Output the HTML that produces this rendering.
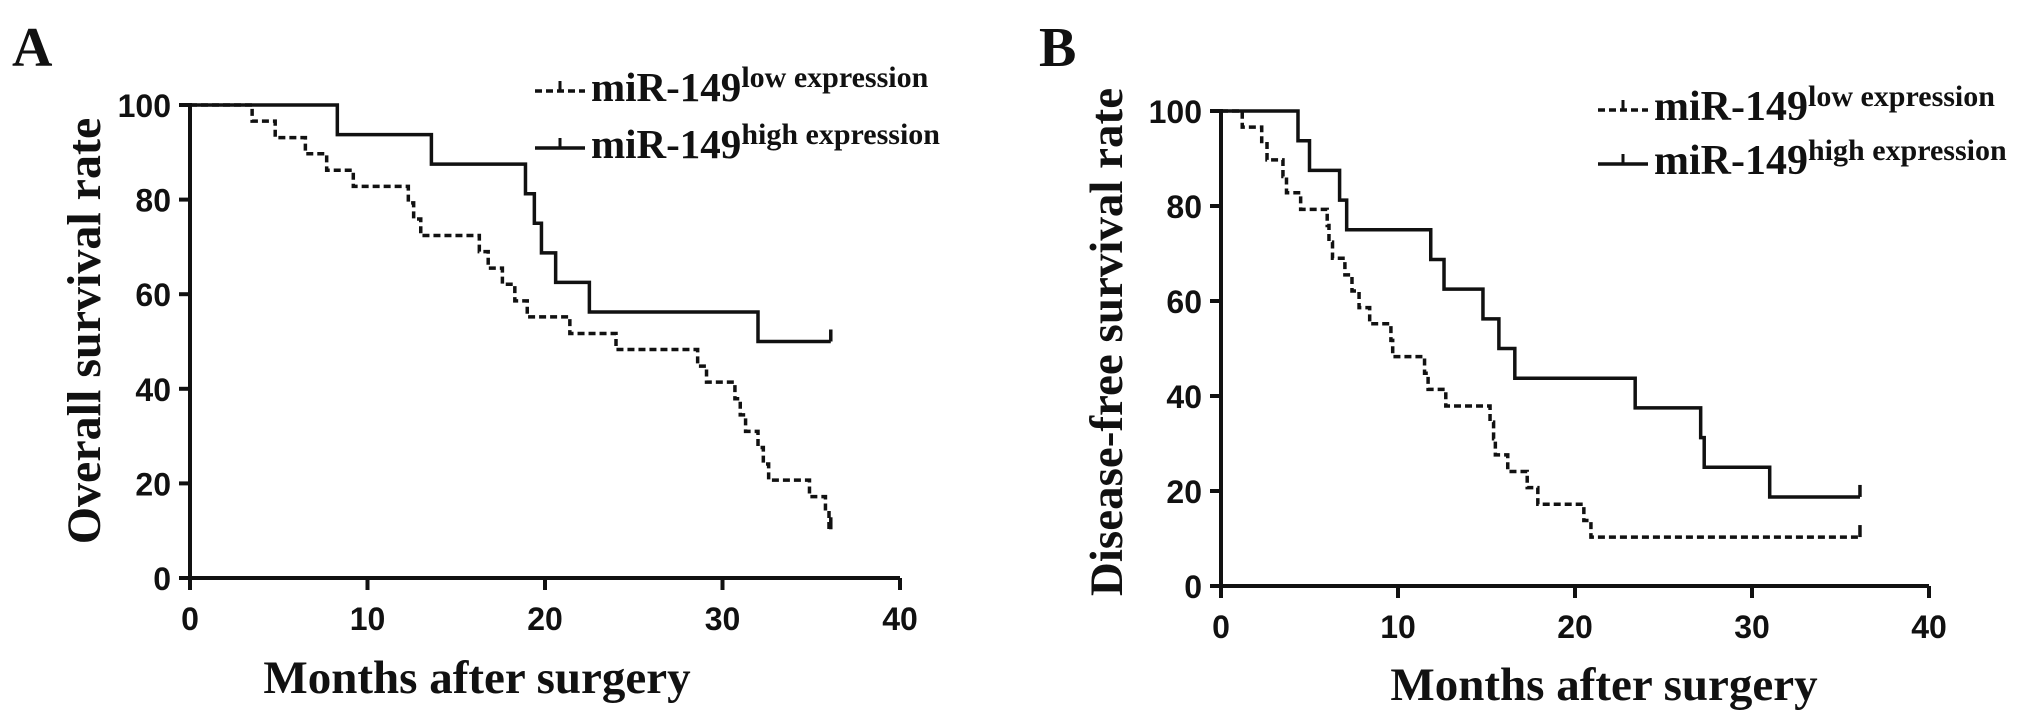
<!DOCTYPE html>
<html><head><meta charset="utf-8"><style>
html,body{margin:0;padding:0;background:#fff;}
svg{display:block;}
.tk{font-family:"Liberation Sans",Arial,sans-serif;font-weight:bold;font-size:32px;fill:#111;}
.tt{font-family:"Liberation Serif","Times New Roman",serif;font-weight:bold;fill:#111;}
</style></head><body>
<svg id="chart" width="2031" height="725" viewBox="0 0 2031 725" xmlns="http://www.w3.org/2000/svg"></svg>
<script>
const xTicks = [0, 10, 20, 30, 40];
const yTicks = [0, 20, 40, 60, 80, 100];
// Panel A - overall survival
const aHighTimes = [8.3, 13.6, 18.9, 19.4, 19.8, 20.6, 22.5, 32.0];
const aHighValues = [93.75, 87.5, 81.25, 75, 68.75, 62.5, 56.25, 50];
const aHighEnd = 36.1;
const aLowTimes = [3.5, 4.8, 6.5, 7.7, 9.2, 12.3, 12.6, 13.0, 16.3, 16.8, 17.6, 18.3, 19.0, 21.4, 24.0, 28.6, 29.1, 30.7, 31.0, 31.3, 32.0, 32.3, 32.6, 34.9, 35.8, 36.0];
const aLowValues = [96.6, 93.1, 89.7, 86.2, 82.8, 79.3, 75.9, 72.4, 69.0, 65.5, 62.1, 58.6, 55.2, 51.7, 48.3, 44.8, 41.4, 37.9, 34.5, 31.0, 27.6, 24.1, 20.7, 17.2, 13.8, 10.3];
const aLowEnd = 36.1;
// Panel B - disease-free survival
const bHighTimes = [4.35, 5.0, 6.7, 7.1, 11.85, 12.6, 14.8, 15.7, 16.6, 23.4, 27.1, 27.3, 31.0];
const bHighValues = [93.75, 87.5, 81.25, 75, 68.75, 62.5, 56.25, 50, 43.75, 37.5, 31.25, 25, 18.75];
const bHighEnd = 36.1;
const bLowTimes = [1.2, 2.3, 2.6, 3.5, 3.7, 4.5, 6.0, 6.1, 6.3, 7.0, 7.4, 7.8, 8.4, 9.6, 9.7, 11.5, 11.7, 12.7, 15.2, 15.4, 15.5, 16.2, 17.3, 17.9, 20.5, 20.9];
const bLowValues = [96.6, 93.1, 89.7, 86.2, 82.8, 79.3, 75.9, 72.4, 69.0, 65.5, 62.1, 58.6, 55.2, 51.7, 48.3, 44.8, 41.4, 37.9, 34.5, 31.0, 27.6, 24.1, 20.7, 17.2, 13.8, 10.3];
const bLowEnd = 36.1;

const NS = "http://www.w3.org/2000/svg";
const svg = document.getElementById("chart");
function mk(tag, attrs, parent) {
  const e = document.createElementNS(NS, tag);
  for (const k in attrs) e.setAttribute(k, attrs[k]);
  (parent || svg).appendChild(e);
  return e;
}
function stepPath(times, values, end, sx, sy) {
  let d = "M" + sx(0) + " " + sy(100);
  for (let i = 0; i < times.length; i++) {
    d += " H" + sx(times[i]) + " V" + sy(values[i]);
  }
  d += " H" + sx(end);
  return d;
}
function panel(cfg) {
  const g = mk("g", {});
  
  
  const sx = v => cfg.x0 + (cfg.x40 - cfg.x0) * v / 40;
  const sy = v => cfg.y0 + (cfg.y100 - cfg.y0) * v / 100;
  const L = mk("text", {x: cfg.lx, y: cfg.ly, class: "tt", "font-size": 56}, g);
  L.textContent = cfg.letter;
  
  
  const ax = mk("path", {d: "M" + sx(0) + " " + (sy(100) - 2) + " V" + sy(0) + " H" + sx(40), stroke: "#111", "stroke-width": 4, fill: "none"}, g);
  
  
  yTicks.forEach(v => {
    const t = mk("line", {x1: sx(0) - 11, x2: sx(0), y1: sy(v), y2: sy(v), stroke: "#111", "stroke-width": 4}, g);
    
    
    const l = mk("text", {x: sx(0) - 19, y: sy(v) + 12, class: "tk", "text-anchor": "end"}, g);
    l.textContent = v;
    
    
  });
  xTicks.forEach(v => {
    const t = mk("line", {x1: sx(v), x2: sx(v), y1: sy(0), y2: sy(0) + 12, stroke: "#111", "stroke-width": 4}, g);
    
    
    const l = mk("text", {x: sx(v), y: sy(0) + 52, class: "tk", "text-anchor": "middle"}, g);
    l.textContent = v;
    
    
  });
  const xt = mk("text", {x: cfg.xtx, y: cfg.xty, class: "tt", "font-size": 47, "text-anchor": "middle"}, g);
  xt.textContent = "Months after surgery";
  
  
  const yt = mk("text", {x: 0, y: 0, class: "tt", "font-size": cfg.ytfs, "text-anchor": "middle", transform: "translate(" + cfg.ytx + "," + cfg.yty + ") rotate(-90)"}, g);
  yt.textContent = cfg.ytitle;
  
  
  const hp = mk("path", {d: stepPath(cfg.hT, cfg.hV, cfg.hE, sx, sy), stroke: "#111", "stroke-width": 3.5, fill: "none"}, g);
  
  
  const lp = mk("path", {d: stepPath(cfg.lT, cfg.lV, cfg.lE, sx, sy), stroke: "#111", "stroke-width": 3.5, fill: "none", "stroke-dasharray": "7 4"}, g);
  
  
  const he = mk("line", {x1: sx(cfg.hE), x2: sx(cfg.hE), y1: sy(cfg.hV[cfg.hV.length - 1]) - 12, y2: sy(cfg.hV[cfg.hV.length - 1]), stroke: "#111", "stroke-width": 3.5}, g);
  
  
  const le = mk("line", {x1: sx(cfg.lE), x2: sx(cfg.lE), y1: sy(cfg.lV[cfg.lV.length - 1]) - 12, y2: sy(cfg.lV[cfg.lV.length - 1]), stroke: "#111", "stroke-width": 3.5}, g);
  
  
  const lg = mk("g", {}, g);
  
  
  [[cfg.leg1y, "low expression", "7 4", "legend-entry-low"], [cfg.leg2y, "high expression", "none", "legend-entry-high"]].forEach(e => {
    const eg = mk("g", {}, lg);
    
    
    mk("line", {x1: cfg.legx, x2: cfg.legx + 50, y1: e[0], y2: e[0], stroke: "#111", "stroke-width": 3.5, "stroke-dasharray": e[2]}, eg);
    mk("line", {x1: cfg.legx + 25, x2: cfg.legx + 25, y1: e[0] - 10, y2: e[0], stroke: "#111", "stroke-width": 3}, eg);
    const t = mk("text", {x: cfg.legx + 56, y: e[0] + 10, class: "tt", "font-size": cfg.legfs}, eg);
    t.textContent = "miR-149";
    const s = mk("tspan", {"font-size": cfg.legsfs, dy: -14}, t);
    s.textContent = e[1];
  });
}
panel({name: "panel-a-overall-survival", letter: "A", lx: 12, ly: 66, x0: 190, x40: 900, y0: 578, y100: 105,
  xtx: 477, xty: 693, ytx: 100, yty: 331, ytitle: "Overall survival rate", ytfs: 48,
  hT: aHighTimes, hV: aHighValues, hE: aHighEnd, lT: aLowTimes, lV: aLowValues, lE: aLowEnd,
  legx: 535, leg1y: 91, leg2y: 148, legfs: 41, legsfs: 30});
panel({name: "panel-b-disease-free-survival", letter: "B", lx: 1039, ly: 66, x0: 1221, x40: 1929, y0: 586, y100: 111,
  xtx: 1604, xty: 700, ytx: 1122, yty: 342, ytitle: "Disease-free survival rate", ytfs: 47,
  hT: bHighTimes, hV: bHighValues, hE: bHighEnd, lT: bLowTimes, lV: bLowValues, lE: bLowEnd,
  legx: 1598, leg1y: 110, leg2y: 164, legfs: 42, legsfs: 30});
</script>
</body></html>
